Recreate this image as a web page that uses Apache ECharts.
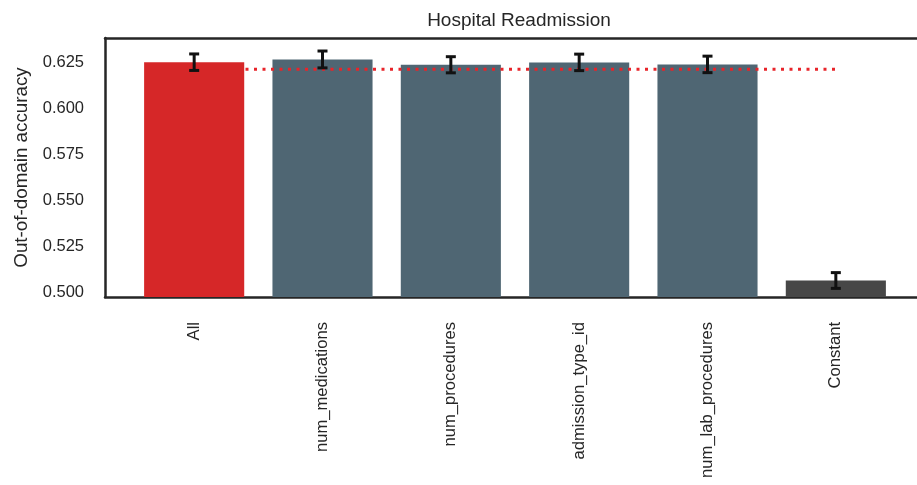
<!DOCTYPE html>
<html>
<head>
<meta charset="utf-8">
<script src="https://cdn.jsdelivr.net/npm/echarts@6/dist/echarts.min.js"></script>
<style>
  html, body { margin: 0; padding: 0; background: #ffffff; }
  #chart { width: 917px; height: 485px; }
</style>
</head>
<body>
<div id="chart"></div>
<script>
// Feature groups and their out-of-domain accuracy (mean with error half-width)
const categories = ['All', 'num_medications', 'num_procedures', 'admission_type_id', 'num_lab_procedures', 'Constant'];
const meanAccuracy = [0.6254, 0.6269, 0.6240, 0.6253, 0.6242, 0.5063];
const errorHalfWidth = [0.0045, 0.0046, 0.0044, 0.0045, 0.0045, 0.0043];
const barColors = ['#d62728', '#4f6673', '#4f6673', '#4f6673', '#4f6673', '#474747'];

// Reference level drawn as a dotted red line
const referenceLevel = 0.6216;
const referenceSpan = [0.4, 5.0];

// Value axis range and tick labels
const yRange = [0.4973, 0.6386];
const yTicks = [0.500, 0.525, 0.550, 0.575, 0.600, 0.625];

const FONT = "'Liberation Sans', Arial, sans-serif";
const INK = '#262626';

const chart = echarts.init(document.getElementById('chart'));

const frameGrid = { left: 105, top: 38, width: 819, height: 259 };
const barGrid = { left: 130, top: 38, width: 770, height: 259 };

chart.setOption({
  animation: false,
  backgroundColor: '#ffffff',
  title: {
    text: 'Hospital Readmission',
    left: 514,
    top: 6,
    textAlign: 'center',
    textStyle: { fontFamily: FONT, fontSize: 19, fontWeight: 'normal', color: INK }
  },
  grid: [frameGrid, barGrid],
  xAxis: [
    { // bottom spine
      type: 'value', gridIndex: 0, min: 0, max: 1, position: 'bottom',
      axisLine: { show: true, lineStyle: { color: INK, width: 2.5 } },
      axisTick: { show: false }, axisLabel: { show: false }, splitLine: { show: false }
    },
    { // top spine
      type: 'value', gridIndex: 0, min: 0, max: 1, position: 'top',
      axisLine: { show: true, lineStyle: { color: INK, width: 2.5 } },
      axisTick: { show: false }, axisLabel: { show: false }, splitLine: { show: false }
    },
    { // category axis carrying the bars and their labels
      type: 'category', gridIndex: 1, data: categories,
      axisLine: { show: false }, axisTick: { show: false },
      axisLabel: { rotate: 90, margin: 25, fontFamily: FONT, fontSize: 16.6, color: INK }
    },
    { // continuous x scale for the reference line
      type: 'value', gridIndex: 1, min: -0.5, max: 5.5, show: false
    }
  ],
  yAxis: [
    {
      type: 'value', gridIndex: 0, min: yRange[0], max: yRange[1],
      name: 'Out-of-domain accuracy', nameLocation: 'middle', nameGap: 73,
      nameTextStyle: { fontFamily: FONT, fontSize: 18.8, color: INK },
      axisLine: { show: true, lineStyle: { color: INK, width: 2.5 } },
      axisTick: { show: false },
      axisLabel: {
        customValues: yTicks, margin: 21,
        fontFamily: FONT, fontSize: 16.5, color: INK,
        formatter: v => v.toFixed(3)
      },
      splitLine: { show: false }
    },
    {
      type: 'value', gridIndex: 1, min: yRange[0], max: yRange[1], show: false
    }
  ],
  series: [
    {
      type: 'bar',
      xAxisIndex: 2, yAxisIndex: 1,
      barWidth: '78%',
      data: meanAccuracy.map((v, i) => ({ value: v, itemStyle: { color: barColors[i] } }))
    },
    {
      type: 'line',
      xAxisIndex: 3, yAxisIndex: 1,
      symbol: 'none',
      z: 5,
      lineStyle: { color: '#e8242a', width: 3, type: [3, 5.5] },
      data: referenceSpan.map(x => [x, referenceLevel])
    },
    {
      type: 'custom',
      xAxisIndex: 2, yAxisIndex: 1,
      z: 10,
      data: meanAccuracy.map((v, i) => [i, v - errorHalfWidth[i], v + errorHalfWidth[i]]),
      renderItem: (params, api) => {
        const lo = api.coord([api.value(0), api.value(1)]);
        const hi = api.coord([api.value(0), api.value(2)]);
        const cap = 5;
        const style = { stroke: '#111111', lineWidth: 3 };
        return {
          type: 'group',
          children: [
            { type: 'line', shape: { x1: lo[0], y1: lo[1], x2: hi[0], y2: hi[1] }, style },
            { type: 'line', shape: { x1: hi[0] - cap, y1: hi[1], x2: hi[0] + cap, y2: hi[1] }, style },
            { type: 'line', shape: { x1: lo[0] - cap, y1: lo[1], x2: lo[0] + cap, y2: lo[1] }, style }
          ]
        };
      }
    }
  ]
});
</script>
</body>
</html>
